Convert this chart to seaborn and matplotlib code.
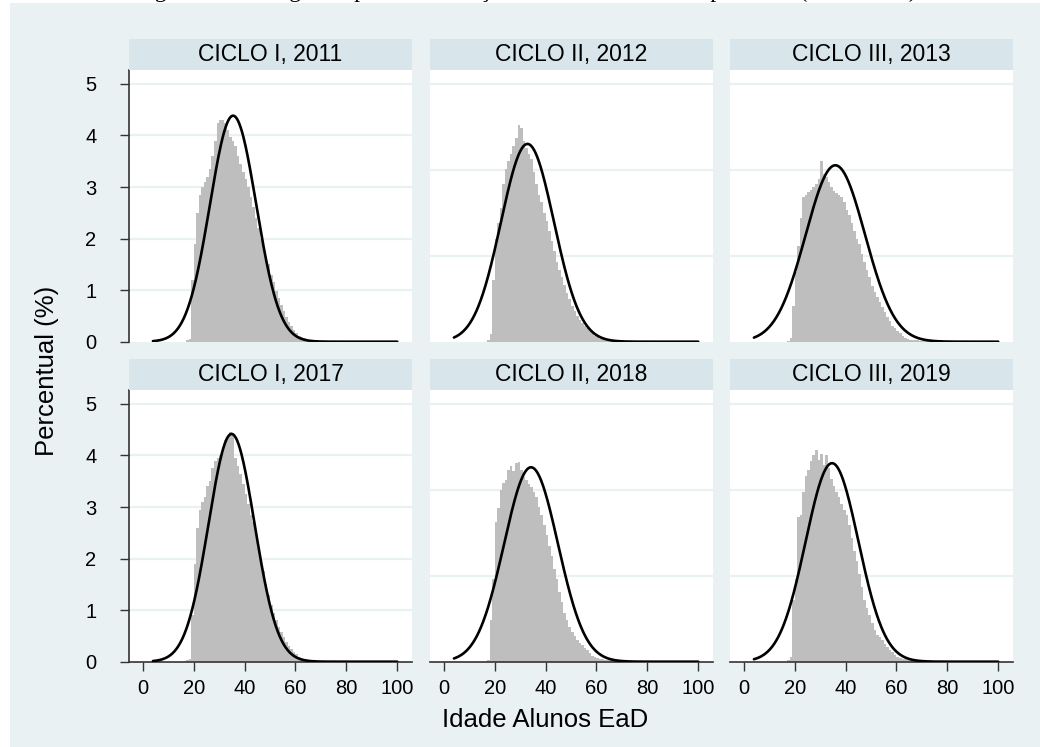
import numpy as np
import pandas as pd
import matplotlib
matplotlib.use("Agg")
import matplotlib.pyplot as plt
from matplotlib.patches import Rectangle
import seaborn as sns

# ---------------- data ----------------
PANEL_TITLES = ["CICLO I, 2011", "CICLO II, 2012", "CICLO III, 2013",
                "CICLO I, 2017", "CICLO II, 2018", "CICLO III, 2019"]

AGE_START = 17  # age of first bin (bins are 1 year wide)

PCT_2011 = [0.03, 0.06, 1.2, 1.9, 2.5, 2.85, 3.0, 3.1, 3.2, 3.35,
            3.6, 3.9, 4.25, 4.3, 4.3, 4.25, 4.1, 3.98, 3.9, 3.8,
            3.6, 3.45, 3.3, 3.15, 3.0, 2.8, 2.62, 2.4, 2.2, 2.0,
            1.85, 1.65, 1.5, 1.3, 1.15, 0.98, 0.85, 0.72, 0.6, 0.47,
            0.38, 0.3, 0.23, 0.17, 0.12, 0.09, 0.07, 0.05, 0.04]
PCT_2012 = [0.03, 0.15, 1.2, 2.0, 2.3, 2.6, 3.05, 3.35, 3.5, 3.65,
            3.8, 3.95, 4.2, 4.15, 3.9, 3.75, 3.65, 3.55, 3.3, 3.05,
            2.85, 2.7, 2.5, 2.35, 2.15, 1.95, 1.75, 1.55, 1.4, 1.25,
            1.1, 0.95, 0.82, 0.7, 0.6, 0.5, 0.43, 0.37, 0.31, 0.27,
            0.21, 0.16, 0.12, 0.09, 0.06, 0.05, 0.04, 0.04, 0.03]
PCT_2013 = [0.02, 0.08, 0.7, 1.35, 1.85, 2.4, 2.8, 2.85, 2.9, 2.95,
            3.0, 3.05, 3.15, 3.5, 3.25, 3.2, 3.1, 3.0, 2.92, 2.88,
            2.85, 2.8, 2.7, 2.55, 2.45, 2.3, 2.15, 2.0, 1.9, 1.7,
            1.55, 1.4, 1.25, 1.08, 0.97, 0.87, 0.77, 0.68, 0.58, 0.48,
            0.4, 0.31, 0.26, 0.2, 0.16, 0.12, 0.08, 0.06, 0.04]
PCT_2017 = [0.03, 0.05, 0.9, 1.9, 2.6, 2.95, 3.1, 3.2, 3.4, 3.5,
            3.75, 3.9, 3.95, 4.0, 4.15, 4.3, 4.35, 4.45, 4.4, 3.95,
            3.8, 3.65, 3.45, 3.25, 3.05, 2.85, 2.7, 2.45, 2.2, 2.0,
            1.75, 1.5, 1.3, 1.1, 0.95, 0.8, 0.68, 0.57, 0.47, 0.38,
            0.3, 0.24, 0.18, 0.14, 0.1, 0.08, 0.06, 0.05, 0.04]
PCT_2018 = [0.03, 0.8, 1.6, 2.7, 2.98, 3.33, 3.46, 3.53, 3.72, 3.8,
            3.69, 3.85, 3.88, 3.72, 3.59, 3.53, 3.45, 3.38, 3.3, 3.2,
            3.0, 2.85, 2.65, 2.45, 2.25, 2.05, 1.8, 1.6, 1.35, 1.15,
            0.95, 0.8, 0.68, 0.58, 0.49, 0.42, 0.37, 0.32, 0.27, 0.22,
            0.17, 0.12, 0.09, 0.07, 0.05, 0.05, 0.04, 0.04, 0.03]
PCT_2019 = [0.03, 0.1, 1.2, 1.6, 2.8, 2.85, 3.3, 3.6, 3.72, 3.9,
            4.0, 4.1, 3.92, 4.02, 3.82, 4.0, 3.75, 3.55, 3.4, 3.3,
            3.2, 3.05, 2.95, 2.85, 2.65, 2.4, 2.15, 1.95, 1.7, 1.45,
            1.2, 1.05, 0.9, 0.75, 0.62, 0.52, 0.47, 0.42, 0.35, 0.29,
            0.23, 0.18, 0.13, 0.1, 0.08, 0.06, 0.05, 0.04, 0.03]
# thin tail of older students (ages 66..99), common to all panels
PCT_TAIL = [0.03, 0.03, 0.03, 0.02, 0.02, 0.02, 0.02, 0.02, 0.02, 0.01,
            0.01, 0.01, 0.01, 0.01, 0.01, 0.01, 0.01, 0.01, 0.01, 0.01,
            0.01, 0.01, 0.01, 0.01, 0.01, 0.01, 0.01, 0.01, 0.01, 0.01,
            0.01, 0.01, 0.01, 0.01]

# fitted normal overlay (mean, sd) per panel
NORMAL_MEAN = [35.5, 32.9, 36.0, 34.9, 34.3, 34.7]
NORMAL_SD = [9.1, 10.4, 11.66, 9.03, 10.58, 10.36]
CURVE_RANGE = (4, 100)

X_TICKS = [0, 20, 40, 60, 80, 100]
Y_TICKS = [0, 1, 2, 3, 4, 5]
GRID_FIRST_COL = [1, 2, 3, 4, 5]
GRID_OTHER_COLS = [5 / 3, 10 / 3, 5]

X_LABEL = "Idade Alunos EaD"
Y_LABEL = "Percentual (%)"
CAPTION = "Figura 3 – Histograma para distribuição de idade dos alunos por ciclo (2011-2019)"

ALL_PCT = [PCT_2011, PCT_2012, PCT_2013, PCT_2017, PCT_2018, PCT_2019]

# ---------------- style ----------------
sns.set_style("white")
plt.rcParams["font.family"] = ["Liberation Sans", "DejaVu Sans"]

BG = "#EAF1F3"
STRIP = "#D8E5EB"
BAR = "#BEBEBE"
AXC = "#333333"

W, H = 1040, 747
fig = plt.figure(figsize=(W / 100, H / 100), dpi=100, facecolor="white")
fig.add_artist(Rectangle((10 / W, 0), (W - 10) / W, (H - 3) / H,
                         transform=fig.transFigure, facecolor=BG,
                         edgecolor="none", zorder=0))

# caption line of the source document, cropped at the top edge (only descenders show)
fig.text(135 / W, 1 + 3.5 / H, CAPTION, ha="left", va="baseline",
         fontsize=17, family=["Liberation Serif", "DejaVu Serif"], color="black",
         zorder=-1)

COL_X = [129, 430, 730]
PANEL_W = 283
ROW_TOP = [70, 390]
ROW_BOT = [341.7, 661.7]
STRIP_H = 31

xs = np.linspace(CURVE_RANGE[0], CURVE_RANGE[1], 500)

for i, (title, pct) in enumerate(zip(PANEL_TITLES, ALL_PCT)):
    r, c = divmod(i, 3)
    left = COL_X[c] / W
    bottom = 1 - ROW_BOT[r] / H
    height = (ROW_BOT[r] - ROW_TOP[r]) / H
    ax = fig.add_axes([left, bottom, PANEL_W / W, height])
    ax.set_facecolor("white")

    values = list(pct) + list(PCT_TAIL)
    ages = AGE_START + np.arange(len(values)) + 0.5
    df = pd.DataFrame({"idade": ages, "pct": values})

    grid_vals = GRID_FIRST_COL if c == 0 else GRID_OTHER_COLS
    for g in grid_vals:
        ax.axhline(g, color=BG, linewidth=1.6, zorder=0.5)

    sns.histplot(x=df["idade"].to_numpy(), weights=df["pct"].to_numpy(),
                 binwidth=1, binrange=(AGE_START, AGE_START + len(values)),
                 ax=ax, color=BAR, edgecolor="none", linewidth=0, alpha=1,
                 stat="count")

    mu, sd = NORMAL_MEAN[i], NORMAL_SD[i]
    curve = pd.DataFrame({"x": xs,
                          "y": 100 * np.exp(-0.5 * ((xs - mu) / sd) ** 2) / (sd * np.sqrt(2 * np.pi))})
    sns.lineplot(data=curve, x="x", y="y", ax=ax, color="black",
                 linewidth=1.9, zorder=3)

    ax.set_xlim(-5.4, 105.8)
    ax.set_ylim(0, 5.27)
    ax.set_xlabel("")
    ax.set_ylabel("")
    for s in ax.spines.values():
        s.set_visible(False)

    if c == 0:
        ax.spines["left"].set_visible(True)
        ax.spines["left"].set_color(AXC)
        ax.spines["left"].set_linewidth(1.2)
        ax.set_yticks(Y_TICKS)
        ax.set_yticklabels([str(v) for v in Y_TICKS])
        ax.tick_params(axis="y", length=6.5, width=1, color=AXC, pad=17,
                       labelsize=14.5, labelcolor="black", left=True)
    else:
        ax.set_yticks([])

    if r == 1:
        ax.spines["bottom"].set_visible(True)
        ax.spines["bottom"].set_color(AXC)
        ax.spines["bottom"].set_linewidth(1.2)
        ax.set_xticks(X_TICKS)
        ax.set_xticklabels([str(v) for v in X_TICKS])
        ax.tick_params(axis="x", length=6.5, width=1, color=AXC, pad=6,
                       labelsize=14.5, labelcolor="black", bottom=True)
    else:
        ax.set_xticks([])

    # header strip
    strip_bottom = 1 - ROW_TOP[r] / H
    fig.add_artist(Rectangle((left, strip_bottom), PANEL_W / W, STRIP_H / H,
                             transform=fig.transFigure, facecolor=STRIP,
                             edgecolor="none", zorder=1))
    fig.text(left + PANEL_W / (2 * W), strip_bottom + STRIP_H / (2 * H), title,
             ha="center", va="center", fontsize=16.5, color="black")

fig.text(545 / W, 1 - 720 / H, X_LABEL, ha="center", va="center",
         fontsize=18.5, color="black")
fig.text(47 / W, 1 - 371 / H, Y_LABEL, ha="center", va="center",
         rotation=90, fontsize=18.5, color="black")

fig.savefig("out.png", dpi=100, facecolor="white")
